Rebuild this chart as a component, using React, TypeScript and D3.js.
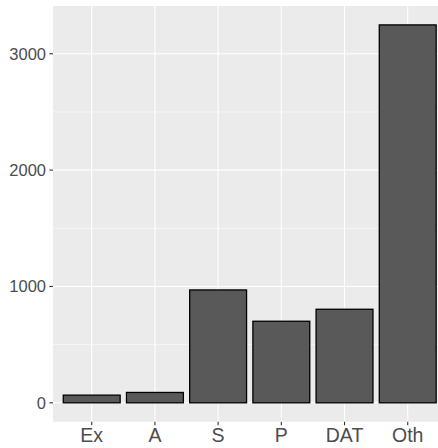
import React, { useEffect, useRef } from 'react';
import * as d3 from 'd3';

const CATEGORIES = ['Ex', 'A', 'S', 'P', 'DAT', 'Oth'];
const COUNTS = [66, 89, 970, 701, 804, 3248];
const Y_TICKS = [0, 1000, 2000, 3000];
const Y_MINOR = [500, 1500, 2500];

const App: React.FC = () => {
  const svgRef = useRef<SVGSVGElement>(null);

  useEffect(() => {
    if (!svgRef.current) return;
    const svg = d3.select(svgRef.current);
    svg.selectAll('*').remove();

    const width = 438;
    const height = 448;
    const panel = { left: 53, top: 6, bottom: 421.7 };

    // discrete x: positions 1..n, 0.6 units of padding each side (ggplot style)
    const x = d3.scaleLinear()
      .domain([0.4, CATEGORIES.length + 0.6])
      .range([53.8, 53.8 + 6.2 * 63.2]);
    const unit = x(2) - x(1);

    const maxV = d3.max(COUNTS) as number;
    const pad = maxV * 0.05;
    const y = d3.scaleLinear()
      .domain([-pad, maxV + pad])
      .range([panel.bottom, panel.top]);

    const font = '"Liberation Sans", Arial, sans-serif';

    // panel background
    svg.append('rect')
      .attr('x', panel.left)
      .attr('y', panel.top)
      .attr('width', width - panel.left)
      .attr('height', panel.bottom - panel.top)
      .attr('fill', '#EBEBEB');

    const grid = svg.append('g');
    grid.selectAll('.minor')
      .data(Y_MINOR)
      .enter()
      .append('line')
      .attr('x1', panel.left)
      .attr('x2', width)
      .attr('y1', d => y(d))
      .attr('y2', d => y(d))
      .attr('stroke', '#fff')
      .attr('stroke-width', 0.55);

    grid.selectAll('.major')
      .data(Y_TICKS)
      .enter()
      .append('line')
      .attr('x1', panel.left)
      .attr('x2', width)
      .attr('y1', d => y(d))
      .attr('y2', d => y(d))
      .attr('stroke', '#fff')
      .attr('stroke-width', 1.1);

    grid.selectAll('.vmajor')
      .data(CATEGORIES)
      .enter()
      .append('line')
      .attr('x1', (d, i) => x(i + 1))
      .attr('x2', (d, i) => x(i + 1))
      .attr('y1', panel.top)
      .attr('y2', panel.bottom)
      .attr('stroke', '#fff')
      .attr('stroke-width', 1.1);

    // bars
    const bw = unit * 0.9;
    svg.append('g')
      .selectAll('rect')
      .data(COUNTS)
      .enter()
      .append('rect')
      .attr('x', (d, i) => x(i + 1) - bw / 2)
      .attr('y', d => y(d))
      .attr('width', bw)
      .attr('height', d => y(0) - y(d))
      .attr('fill', '#595959')
      .attr('stroke', '#000')
      .attr('stroke-width', 1.3);

    // y axis
    const yAxis = svg.append('g');
    yAxis.selectAll('line')
      .data(Y_TICKS)
      .enter()
      .append('line')
      .attr('x1', panel.left - 3.6)
      .attr('x2', panel.left)
      .attr('y1', d => y(d))
      .attr('y2', d => y(d))
      .attr('stroke', '#333')
      .attr('stroke-width', 1.1);
    yAxis.selectAll('text')
      .data(Y_TICKS)
      .enter()
      .append('text')
      .attr('x', panel.left - 7)
      .attr('y', d => y(d))
      .attr('dy', '0.36em')
      .attr('text-anchor', 'end')
      .attr('fill', '#4D4D4D')
      .style('font-family', font)
      .style('font-size', '16.5px')
      .text(d => String(d));

    // x axis
    const xAxis = svg.append('g');
    xAxis.selectAll('line')
      .data(CATEGORIES)
      .enter()
      .append('line')
      .attr('x1', (d, i) => x(i + 1))
      .attr('x2', (d, i) => x(i + 1))
      .attr('y1', panel.bottom)
      .attr('y2', panel.bottom + 3.6)
      .attr('stroke', '#333')
      .attr('stroke-width', 1.1);
    xAxis.selectAll('text')
      .data(CATEGORIES)
      .enter()
      .append('text')
      .attr('x', (d, i) => x(i + 1))
      .attr('y', 441.5)
      .attr('text-anchor', 'middle')
      .attr('fill', '#4D4D4D')
      .style('font-family', font)
      .style('font-size', '19.5px')
      .text(d => d);
  }, []);

  return (
    <div style={{ position: 'absolute', left: 0, top: 0 }}>
      <svg ref={svgRef} width={438} height={448} style={{ display: 'block', background: '#fff' }} />
    </div>
  );
};

export default App;
